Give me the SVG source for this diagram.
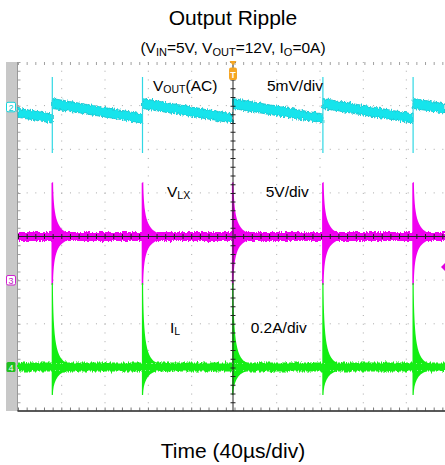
<svg xmlns="http://www.w3.org/2000/svg" width="445" height="465" viewBox="0 0 445 465">
<style>
.t{font-family:"Liberation Sans",Arial,sans-serif;fill:#000}
.grid{stroke:#a8a8a8;stroke-width:1;fill:none}
.gh{stroke-dasharray:1 7.66}
.gv{stroke-dasharray:1 7.725}
.cy{fill:#14e4ec;stroke:#12bcc8;stroke-width:0.8}
.mg{fill:#f000f0}
.gr{fill:#12ee12}
</style>
<defs>
<filter id="jit" filterUnits="userSpaceOnUse" x="0" y="50" width="445" height="370">
<feTurbulence type="fractalNoise" baseFrequency="0.8 0.2" numOctaves="2" seed="7" result="n"/>
<feDisplacementMap in="SourceGraphic" in2="n" scale="5" xChannelSelector="R" yChannelSelector="G"/>
</filter>
</defs>
<rect x="0" y="0" width="445" height="465" fill="#fff"/>
<g id="titles">
<text class="t" x="233" y="25" font-size="21" text-anchor="middle">Output Ripple</text>
<text class="t" x="233" y="53" font-size="15.5" text-anchor="middle">(V<tspan font-size="11" dy="3">IN</tspan><tspan dy="-3">=5V, V</tspan><tspan font-size="11" dy="3">OUT</tspan><tspan dy="-3">=12V, I</tspan><tspan font-size="11" dy="3">O</tspan><tspan dy="-3">=0A)</tspan></text>
<text class="t" x="233" y="458" font-size="21" text-anchor="middle">Time (40µs/div)</text>
</g>
<g id="graticule">
<rect x="6" y="62" width="11.5" height="349" fill="#c8c8c8"/>
<g class="grid gh">
<line x1="18" y1="105.6" x2="445" y2="105.6"/>
<line x1="18" y1="149.3" x2="445" y2="149.3"/>
<line x1="18" y1="192.9" x2="445" y2="192.9"/>
<line x1="18" y1="280.1" x2="445" y2="280.1"/>
<line x1="18" y1="323.8" x2="445" y2="323.8"/>
<line x1="18" y1="367.4" x2="445" y2="367.4"/>
</g>
<g class="grid gv">
<line x1="61.7" y1="62" x2="61.7" y2="411"/>
<line x1="105" y1="62" x2="105" y2="411"/>
<line x1="148.3" y1="62" x2="148.3" y2="411"/>
<line x1="191.7" y1="62" x2="191.7" y2="411"/>
<line x1="276.7" y1="62" x2="276.7" y2="411"/>
<line x1="320" y1="62" x2="320" y2="411"/>
<line x1="363.3" y1="62" x2="363.3" y2="411"/>
<line x1="406.3" y1="62" x2="406.3" y2="411"/>
</g>
<line x1="18" y1="63.5" x2="445" y2="63.5" stroke="#a0a0a0" stroke-width="3" stroke-dasharray="1 7.66"/>
<line x1="19" y1="62" x2="19" y2="411" stroke="#a0a0a0" stroke-width="3" stroke-dasharray="1 7.725"/>
<line x1="18" y1="409" x2="445" y2="409" stroke="#777" stroke-width="3" stroke-dasharray="1 7.66"/>
<line x1="17.5" y1="62" x2="17.5" y2="411" stroke="#999" stroke-width="1"/>
</g>
<g id="traces">
<g id="ch2-vout" filter="url(#jit)">
<polygon class="cy" points="18,108.3 52.3,114 52.3,123 18,117.3"/>
<polygon class="cy" points="52.3,98.5 142.5,114 142.5,123 52.3,108.5"/>
<polygon class="cy" points="142.5,98.5 232.7,114 232.7,123 142.5,108.5"/>
<polygon class="cy" points="232.7,98.5 322.9,114 322.9,123 232.7,108.5"/>
<polygon class="cy" points="322.9,98.5 413.1,114 413.1,123 322.9,108.5"/>
<polygon class="cy" points="413.1,98.5 445,104 445,113 413.1,108.5"/>
</g>
<g id="ch2-spikes" stroke="#30d8e4" stroke-width="1.2">
<line x1="52.3" y1="77" x2="52.3" y2="153"/>
<line x1="142.5" y1="77" x2="142.5" y2="153"/>
<line x1="322.9" y1="77" x2="322.9" y2="153"/>
<line x1="413.1" y1="77" x2="413.1" y2="153"/>
</g>
<g id="ch3-vlx">
<rect class="mg" x="18" y="232" width="427" height="9" filter="url(#jit)"/>
<g class="mg">
<path id="ms" d="M-0.8,233 L-0.8,183 L0.8,182 C1.3,215 4,229 16,233 Z M-0.8,240 L-0.8,285 L0.8,285 C1.3,256 4,244 16,240 Z" transform="translate(52.3,0)"/>
<use href="#ms" x="90.2"/>
<use href="#ms" x="180.4"/>
<use href="#ms" x="270.6"/>
<use href="#ms" x="360.8"/>
</g>
</g>
<g id="ch4-il">
<rect class="gr" x="18" y="362.5" width="427" height="9" filter="url(#jit)"/>
<g class="gr">
<path id="gs" d="M-0.6,363 L-0.6,283 L0.6,283 C1,343 4,359 15,363 Z M-0.6,371 L-0.6,395 L0.6,395 C1,383 4,374 14,371 Z" transform="translate(52.3,0)"/>
<use href="#gs" x="90.2"/>
<use href="#gs" x="180.4"/>
<use href="#gs" x="270.6"/>
<use href="#gs" x="360.8"/>
</g>
</g>
</g>
<g id="axes" stroke="#222">
<line x1="233" y1="62" x2="233" y2="411" stroke-width="1"/>
<line x1="233" y1="62" x2="233" y2="411" stroke-width="5" stroke-dasharray="1 7.725"/>
<line x1="18" y1="236.5" x2="445" y2="236.5" stroke-width="1"/>
<line x1="18" y1="236.5" x2="445" y2="236.5" stroke-width="5" stroke-dasharray="1 7.66"/>
<line x1="17.5" y1="411" x2="445" y2="411" stroke-width="1.3"/>
</g>
<g id="trigger">
<polygon points="229.5,61 236.5,61 233,65.5" fill="#f5a623"/>
<rect x="229" y="67.5" width="8" height="12.5" rx="2" fill="#f5a623"/>
<text x="233" y="77.5" font-family="Liberation Sans,sans-serif" font-size="9" font-weight="bold" fill="#fff" text-anchor="middle">T</text>
</g>
<g id="ch2-marker">
<rect x="6.5" y="102.3" width="9" height="9.5" rx="1.5" fill="#fff" stroke="#14d4dc"/>
<text x="11" y="110.5" font-family="Liberation Sans,sans-serif" font-size="9" fill="#14c8d0" text-anchor="middle">2</text>
</g>
<g id="ch3-marker">
<rect x="6.5" y="275.5" width="9" height="9.5" rx="1.5" fill="#fff" stroke="#d020d0"/>
<text x="11" y="283.8" font-family="Liberation Sans,sans-serif" font-size="9" fill="#c020c0" text-anchor="middle">3</text>
<polygon points="441,267 445,263 445,271" fill="#e000e0"/>
</g>
<g id="ch4-marker">
<rect x="6.5" y="362" width="9" height="10" rx="1.5" fill="#20c020"/>
<text x="11" y="370.5" font-family="Liberation Sans,sans-serif" font-size="9" fill="#fff" text-anchor="middle">4</text>
</g>
<g id="labels" class="t" font-size="15.5">
<text class="t" x="153" y="91">V<tspan font-size="10.5" dy="2">OUT</tspan><tspan dy="-2">(AC)</tspan></text>
<text class="t" x="267" y="91">5mV/div</text>
<text class="t" x="167" y="196.5">V<tspan font-size="10.5" dy="2">LX</tspan></text>
<text class="t" x="265.7" y="197">5V/div</text>
<text class="t" x="170" y="333">I<tspan font-size="10.5" dy="2">L</tspan></text>
<text class="t" x="250.7" y="333">0.2A/div</text>
</g>
</svg>
